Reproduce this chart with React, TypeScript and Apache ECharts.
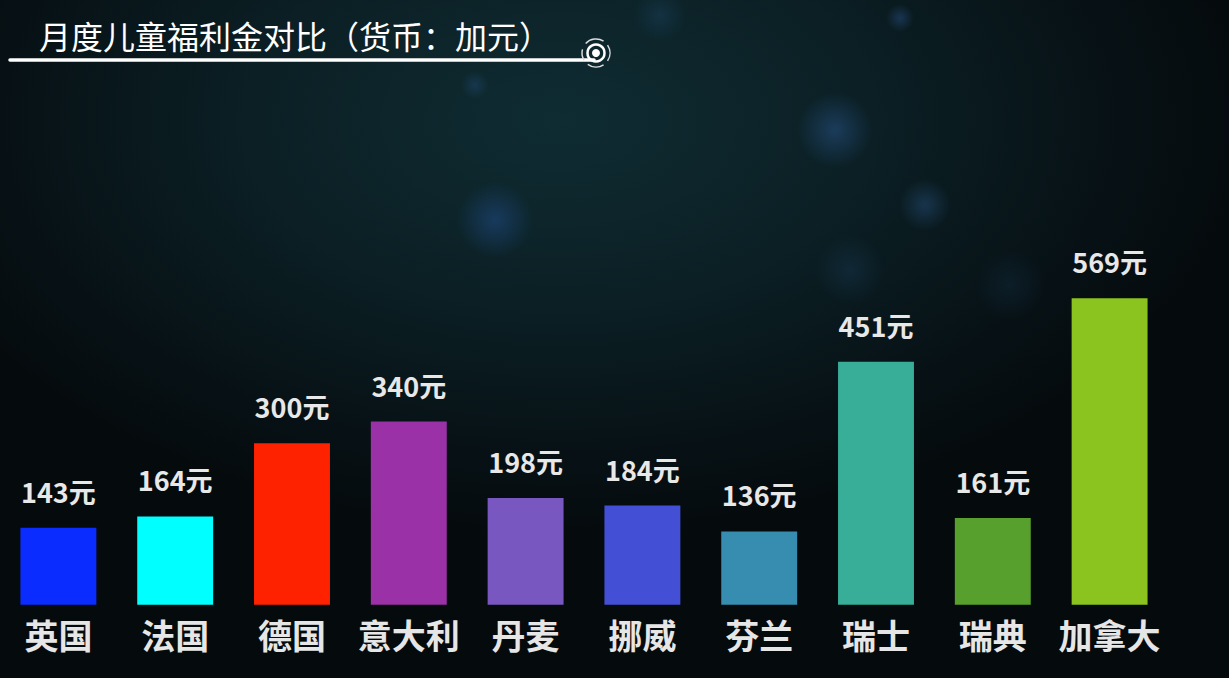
import React, { useEffect, useRef } from 'react';
import * as echarts from 'echarts';

const countries = ['英国', '法国', '德国', '意大利', '丹麦', '挪威', '芬兰', '瑞士', '瑞典', '加拿大'];
const amounts = [143, 164, 300, 340, 198, 184, 136, 451, 161, 569];
const barColors = [
  '#0b2cff', '#00ffff', '#ff2200', '#9a31a6', '#7858c0',
  '#4350d6', '#378db0', '#38ad98', '#58a02e', '#8bc41f',
];
const titleText = '月度儿童福利金对比（货币：加元）';

const FONT = '"Noto Sans CJK SC", "Noto Sans", sans-serif';

export default function App() {
  const chartRef = useRef<HTMLDivElement>(null);

  useEffect(() => {
    if (!chartRef.current) return;
    const chart = echarts.init(chartRef.current, null, { renderer: 'svg' });

    const option: echarts.EChartsOption = {
      animation: false,
      backgroundColor: 'transparent',
      grid: { left: -4.5, right: 61, top: 281.6, bottom: 73.3, containLabel: false },
      xAxis: {
        type: 'category',
        data: countries,
        axisLine: { show: false },
        axisTick: { show: false },
        axisLabel: {
          color: '#e6e6e6',
          fontSize: 34,
          fontWeight: 'bold',
          fontFamily: FONT,
          margin: 13,
          interval: 0,
        },
      },
      yAxis: {
        type: 'value',
        min: 0,
        max: 600,
        show: false,
        splitLine: { show: false },
      },
      series: [
        {
          type: 'bar',
          barWidth: '65%',
          data: amounts.map((v, i) => ({ value: v, itemStyle: { color: barColors[i] } })),
          label: {
            show: true,
            position: 'top',
            distance: 23,
            formatter: '{c}元',
            color: '#e8e8e8',
            fontSize: 27,
            fontWeight: 'bold',
            fontFamily: FONT,
          },
        },
      ],
      graphic: [
        {
          type: 'text',
          left: 39,
          top: 19,
          style: {
            text: titleText,
            fill: '#ffffff',
            font: `32px ${FONT}`,
          },
        },
        {
          type: 'line',
          shape: { x1: 10, y1: 60, x2: 594, y2: 60 },
          style: { stroke: '#ffffff', lineWidth: 3.5, lineCap: 'round' },
        },
        {
          type: 'circle',
          shape: { cx: 596, cy: 53, r: 4 },
          style: { fill: '#ffffff' },
        },
        {
          type: 'circle',
          shape: { cx: 596, cy: 53, r: 8.5 },
          style: { fill: 'none', stroke: '#ffffff', lineWidth: 2.5 },
        },
        {
          type: 'arc',
          shape: { cx: 596, cy: 53, r: 14, startAngle: -2.4, endAngle: -1.0 },
          style: { stroke: '#dddddd', lineWidth: 1.5, fill: 'none' },
        },
        {
          type: 'arc',
          shape: { cx: 596, cy: 53, r: 14, startAngle: -0.6, endAngle: 0.6 },
          style: { stroke: '#dddddd', lineWidth: 1.5, fill: 'none' },
        },
        {
          type: 'arc',
          shape: { cx: 596, cy: 53, r: 14, startAngle: 1.0, endAngle: 2.2 },
          style: { stroke: '#dddddd', lineWidth: 1.5, fill: 'none' },
        },
        {
          type: 'arc',
          shape: { cx: 596, cy: 53, r: 14, startAngle: 2.6, endAngle: 3.4 },
          style: { stroke: '#dddddd', lineWidth: 1.5, fill: 'none' },
        },
      ],
    };
    chart.setOption(option);

    const resizeHandler = () => chart.resize();
    window.addEventListener('resize', resizeHandler);
    return () => {
      window.removeEventListener('resize', resizeHandler);
      chart.dispose();
    };
  }, []);

  // 背景：深色渐变加模糊光斑
  const background = [
    'radial-gradient(circle at 495px 220px, rgba(40,90,170,0.4) 0px, rgba(40,90,170,0) 38px)',
    'radial-gradient(circle at 835px 130px, rgba(50,100,170,0.4) 0px, rgba(50,100,170,0) 38px)',
    'radial-gradient(circle at 925px 205px, rgba(50,100,160,0.35) 0px, rgba(50,100,160,0) 26px)',
    'radial-gradient(circle at 900px 18px, rgba(50,100,170,0.35) 0px, rgba(50,100,170,0) 14px)',
    'radial-gradient(circle at 475px 85px, rgba(50,100,170,0.25) 0px, rgba(50,100,170,0) 14px)',
    'radial-gradient(circle at 660px 15px, rgba(40,90,140,0.25) 0px, rgba(40,90,140,0) 26px)',
    'radial-gradient(circle at 850px 270px, rgba(40,90,140,0.2) 0px, rgba(40,90,140,0) 35px)',
    'radial-gradient(circle at 1010px 285px, rgba(40,90,140,0.15) 0px, rgba(40,90,140,0) 35px)',
    'radial-gradient(ellipse 700px 420px at 560px 120px, #0f2c33 0%, #0b1f24 45%, #071115 80%, #050a0c 100%)',
  ].join(', ');

  return (
    <div
      style={{
        position: 'fixed',
        left: 0,
        top: 0,
        width: 1229,
        height: 678,
        background,
        backgroundColor: '#050a0c',
      }}
    >
      <div ref={chartRef} style={{ width: 1229, height: 678 }} />
    </div>
  );
}
